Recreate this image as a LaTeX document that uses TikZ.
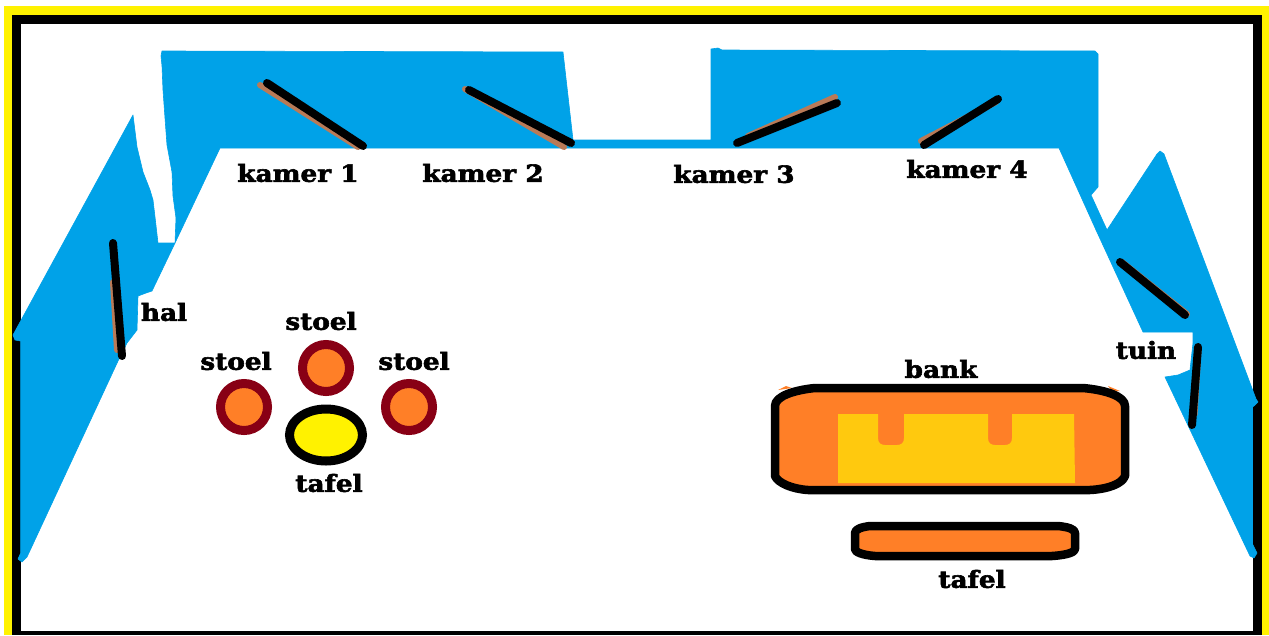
\documentclass[tikz,border=0pt]{standalone}
\usepackage{fontspec}
\setmainfont{DejaVu Serif}[BoldFeatures={FakeStretch=1.12,FakeBold=2.5}]
\definecolor{wallblue}{HTML}{00A2E8}
\definecolor{sofaorange}{HTML}{FF7F27}
\definecolor{cushion}{HTML}{FFC90E}
\definecolor{tableyellow}{HTML}{FFF200}
\definecolor{chairred}{HTML}{880015}
\definecolor{doorbrown}{HTML}{B97A57}
\tikzset{
  x=1pt,y=-1pt,
  wall/.style={fill=wallblue,draw=wallblue,line width=0.6pt,line join=round},
  doorleaf/.style={draw=black,line width=8pt,line cap=round},
  doorshade/.style={draw=doorbrown,line width=6pt,line cap=round},
  lbl/.style={font=\bfseries\fontsize{23.5}{23.5}\selectfont,inner sep=0pt,text=black},
  chair/.style={circle,draw=chairred,line width=9pt,fill=sofaorange,minimum size=47pt,inner sep=0pt},
  outline/.style={draw=black,line width=8.5pt,fill=sofaorange,line join=round},
}
\begin{document}
\begin{tikzpicture}
\useasboundingbox (0,0) rectangle (1269,635);
\fill[white] (0,0) rectangle (1269,635);
\fill[tableyellow] (4,6) rectangle (1269,635);
\fill[black] (12,15) rectangle (1261.5,635);
\fill[white] (20.7,24) rectangle (1252.5,631);
% back walls
\fill[wall] (161,56) -- (162,51) -- (167,51) -- (563,52) -- (573,140) -- (711,140) -- (711,49) -- (718,48) -- (722,50) -- (1095,51) -- (1098,54) -- (1098,187) -- (1091,195) -- (1107,230) -- (1096,230) -- (1059,148) -- (220,148) -- (175,243) -- (176,218) -- (173,196) -- (172,172) -- (167,145) -- (165,118) -- (163,90) -- (162,66) -- cycle;
% left wall
\fill[wall] (133,115) -- (137,147) -- (143,172) -- (150,190) -- (153,200) -- (155,217) -- (158,243) -- (175,243) -- (152,291) -- (146,293) -- (138,296) -- (137,330) -- (127,343) -- (118,361) -- (27,557) -- (22,562) -- (18,559) -- (20.7,553) -- (20.7,341) -- (15,340) -- (13,335) -- cycle;
% right wall
\fill[wall] (1157,154) -- (1160,151) -- (1164,154) -- (1256,399) -- (1258,402) -- (1255,405) -- (1252.5,407) -- (1252.5,544) -- (1257,553) -- (1254,558) -- (1250,556) -- (1165,377) -- (1178,375) -- (1190,370) -- (1193,343) -- (1193,332) -- (1143,332) -- (1096,230) -- (1107,230) -- cycle;
% doors
\draw[doorshade] (260,85) -- (358,147);
\draw[doorleaf] (267,83) -- (363,146);
\draw[doorshade] (465,89) -- (564,147);
\draw[doorleaf] (469,90) -- (571,143);
\draw[doorshade] (748,136) -- (835,97);
\draw[doorleaf] (737,143) -- (837,103);
\draw[doorshade] (921,141) -- (996,102);
\draw[doorleaf] (924,145) -- (998,99);
\draw[doorshade] (113,282) -- (117,350);
\draw[doorleaf] (113,243) -- (122,356);
\draw[doorshade] (1122,262) -- (1187,314);
\draw[doorleaf] (1120,262) -- (1185,315);
\draw[doorshade,line width=3pt] (1200,350) -- (1196,415);
\draw[doorleaf] (1198,347) -- (1192,425);
% sofa
\fill[sofaorange] (778,390) -- (786,386) -- (792,388) -- cycle;
\fill[sofaorange] (1108,386) -- (1120,391) -- (1112,391) -- cycle;
\path[outline] (815,388) -- (1083,388) .. controls (1105,390) and (1125,396) .. (1125,406) -- (1125,476) .. controls (1122,484) and (1108,489) .. (1090,490) -- (808,490) .. controls (792,489) and (778,483) .. (775,476) -- (775,406) .. controls (775,396) and (795,390) .. (815,388) -- cycle;
\fill[cushion] (838,414) -- (878,414) -- (878,438) .. controls (878,443) and (881,445) .. (885,445) -- (897,445) .. controls (901,445) and (904,443) .. (904,438) -- (904,414) -- (988,414) -- (988,438) .. controls (988,443) and (991,445) .. (995,445) -- (1005,445) .. controls (1009,445) and (1012,443) .. (1012,438) -- (1012,414) -- (1074,414) -- (1075,483) -- (838,483) -- cycle;
% low table
\path[outline] (870,526) -- (1058,526) .. controls (1068,527) and (1075,529) .. (1075,533) -- (1075,549) .. controls (1075,552) and (1068,555) .. (1052,556) -- (875,556) .. controls (862,555) and (855,552) .. (855,549) -- (855,533) .. controls (855,529) and (862,527) .. (870,526) -- cycle;
% chairs and round table
\node[chair] (c1) at (326,368) {};
\node[chair] (c2) at (244,407) {};
\node[chair] (c3) at (409,407) {};
\draw[black,line width=9pt,fill=tableyellow] (326,435) ellipse [x radius=36.5,y radius=26];
% labels
\node[lbl] (kamer1) at (298,173) {kamer 1};
\node[lbl] (kamer2) at (483,173) {kamer 2};
\node[lbl] (kamer3) at (734,174) {kamer 3};
\node[lbl] (kamer4) at (967,169) {kamer 4};
\node[lbl] (hal) at (164,312) {hal};
\node[lbl] (stoel1) at (321,321) {stoel};
\node[lbl] (stoel2) at (236,361) {stoel};
\node[lbl] (stoel3) at (414,361) {stoel};
\node[lbl] (tafel1) at (329,483) {tafel};
\node[lbl] (bank) at (941,369) {bank};
\node[lbl] (tafel2) at (972,579) {tafel};
\node[lbl] (tuin) at (1146,350) {tuin};
\end{tikzpicture}
\end{document}
